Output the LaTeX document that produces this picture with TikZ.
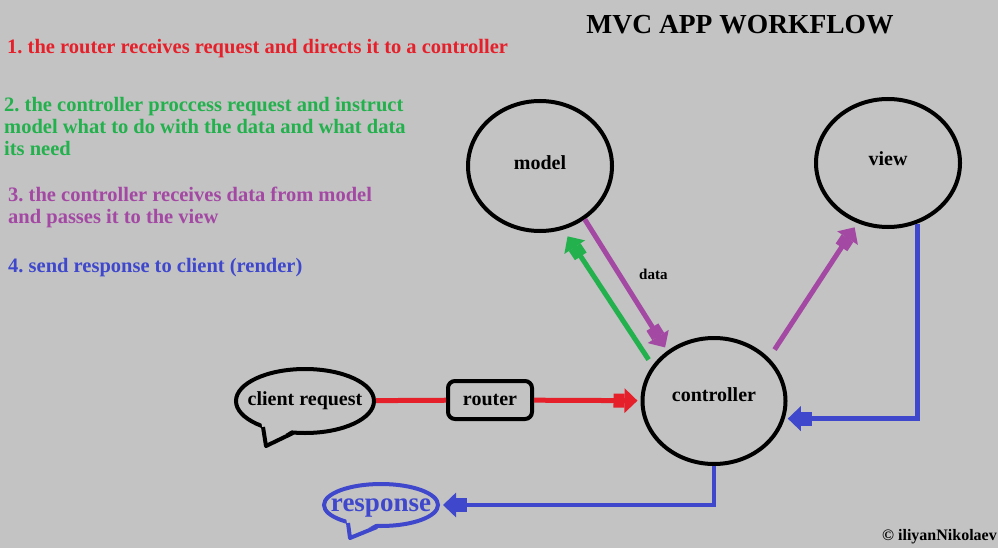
\documentclass[tikz,border=0pt]{standalone}
\usepackage{fontspec}
\setmainfont{Liberation Serif}
\usetikzlibrary{arrows.meta,shapes.geometric,calc}
\frenchspacing

\definecolor{paintgray}{RGB}{195,195,195}
\definecolor{paintred}{RGB}{230,32,42}
\definecolor{paintgreen}{RGB}{34,177,76}
\definecolor{paintpurple}{RGB}{163,73,164}
\definecolor{paintblue}{RGB}{63,72,204}

\tikzset{
	blob/.style =
	{
		draw			= black,
		line width		= 4pt,
		ellipse,
		inner sep		= 0pt,
		font			= \fontsize{20}{23}\selectfont\bfseries
	},
	fatarrow/.style =
	{
		line width		= 5pt,
		-{Rectangle[length=11pt,width=14pt]Triangle[length=13pt,width=24pt]}
	},
	note/.style =
	{
		anchor			= west,
		align			= left,
		inner sep		= 0pt,
		font			= \fontsize{20.5}{22}\selectfont\bfseries
	}
}

\begin{document}
\begin{tikzpicture}[x=1pt,y=-1pt]
		%
		\fill[paintgray] (0,0) rectangle (998,548);
		\useasboundingbox (0,0) rectangle (998,548);
		%
		\node[font=\fontsize{27.5}{30}\selectfont\bfseries] (title) at (740,25) {MVC APP WORKFLOW};
		%
		\node[note, text=paintred] (step1) at (7,48.4)
			{1. the router receives request and directs it to a controller};
		\node[note, text=paintgreen] (step2) at (4,126.3)
			{2. the controller proccess request and instruct\\model what to do with the data and what data\\its need};
		\node[note, text=paintpurple, font=\fontsize{20.5}{22.5}\selectfont\bfseries] (step3) at (8,207.4)
			{3. the controller receives data from model\\and passes it to the view};
		\node[note, text=paintblue] (step4) at (8,268)
			{4. send response to client (render)};
		%
		\node[blob, text depth=7.5pt, minimum width=144pt, minimum height=130pt] (model) at (540,166) {model};
		\node[blob, text depth=8pt, minimum width=144pt, minimum height=128pt] (view) at (888,163) {view};
		\node[blob, text depth=12pt, minimum width=143pt, minimum height=126pt] (controller) at (714,401) {controller};
		\node
		[
			blob,
			inner xsep		= -10pt,
			minimum width	= 138pt,
			minimum height	= 64pt
		] (client) at (305,401) {client request};
		\node
		[
			draw,
			line width		= 4pt,
			rounded corners	= 7pt,
			minimum width	= 84pt,
			minimum height	= 38pt,
			font			= \fontsize{20}{23}\selectfont\bfseries
		] (router) at (490,400) {router};
		\node
		[
			blob,
			draw			= paintblue,
			text			= paintblue,
			text depth		= 0pt,
			inner xsep		= -12pt,
			minimum width	= 114pt,
			minimum height	= 42pt,
			font			= \fontsize{27}{30}\selectfont\bfseries
		] (response) at (381,505) {response};
		%
		% speech bubble tails
		\fill[paintgray] ($(client)+(-44,20)$) -- ($(client)+(-39,45)$) -- ($(client)+(-10,27)$) -- cycle;
		\draw[line width=4pt, line join=round] ($(client)+(-42,26)$) -- ($(client)+(-39,45)$) -- ($(client)+(-12,32)$);
		\fill[paintgray] ($(response)+(-35,13)$) -- ($(response)+(-31,33)$) -- ($(response)+(-2,17)$) -- cycle;
		\draw[paintblue, line width=4pt, line join=round] ($(response)+(-33,18)$) -- ($(response)+(-31,33)$) -- ($(response)+(-4,22)$);
		%
		% connectors
		\draw[paintred, line width=5pt] (client) -- (router);
		\draw[fatarrow, paintred, shorten >=3pt] (router) -- (controller);
		\draw[fatarrow, paintgreen, shorten <=7pt, shorten >=8pt] (controller.150) -- (model.-70);
		\draw[fatarrow, paintpurple, shorten >=4pt] (model.-50) -- (controller.133)
			node[pos=0.42, right=14pt, text=black, font=\fontsize{15}{18}\selectfont\bfseries] (datalabel) {data};
		\draw[fatarrow, paintpurple, shorten <=10pt, shorten >=5pt] (controller.38) -- (view.-117);
		\draw[fatarrow, paintblue, line width=4.5pt, shorten >=3pt] (view.-64) |- (controller.-14);
		\draw[fatarrow, paintblue, line width=4.5pt, shorten >=3pt] (controller.south) |- (response.east);
		%
		\node[anchor=east, inner sep=0pt, font=\fontsize{16}{19}\selectfont\bfseries] (credit) at (997,537) {© iliyanNikolaev};
		%
	\end{tikzpicture}
\end{document}
